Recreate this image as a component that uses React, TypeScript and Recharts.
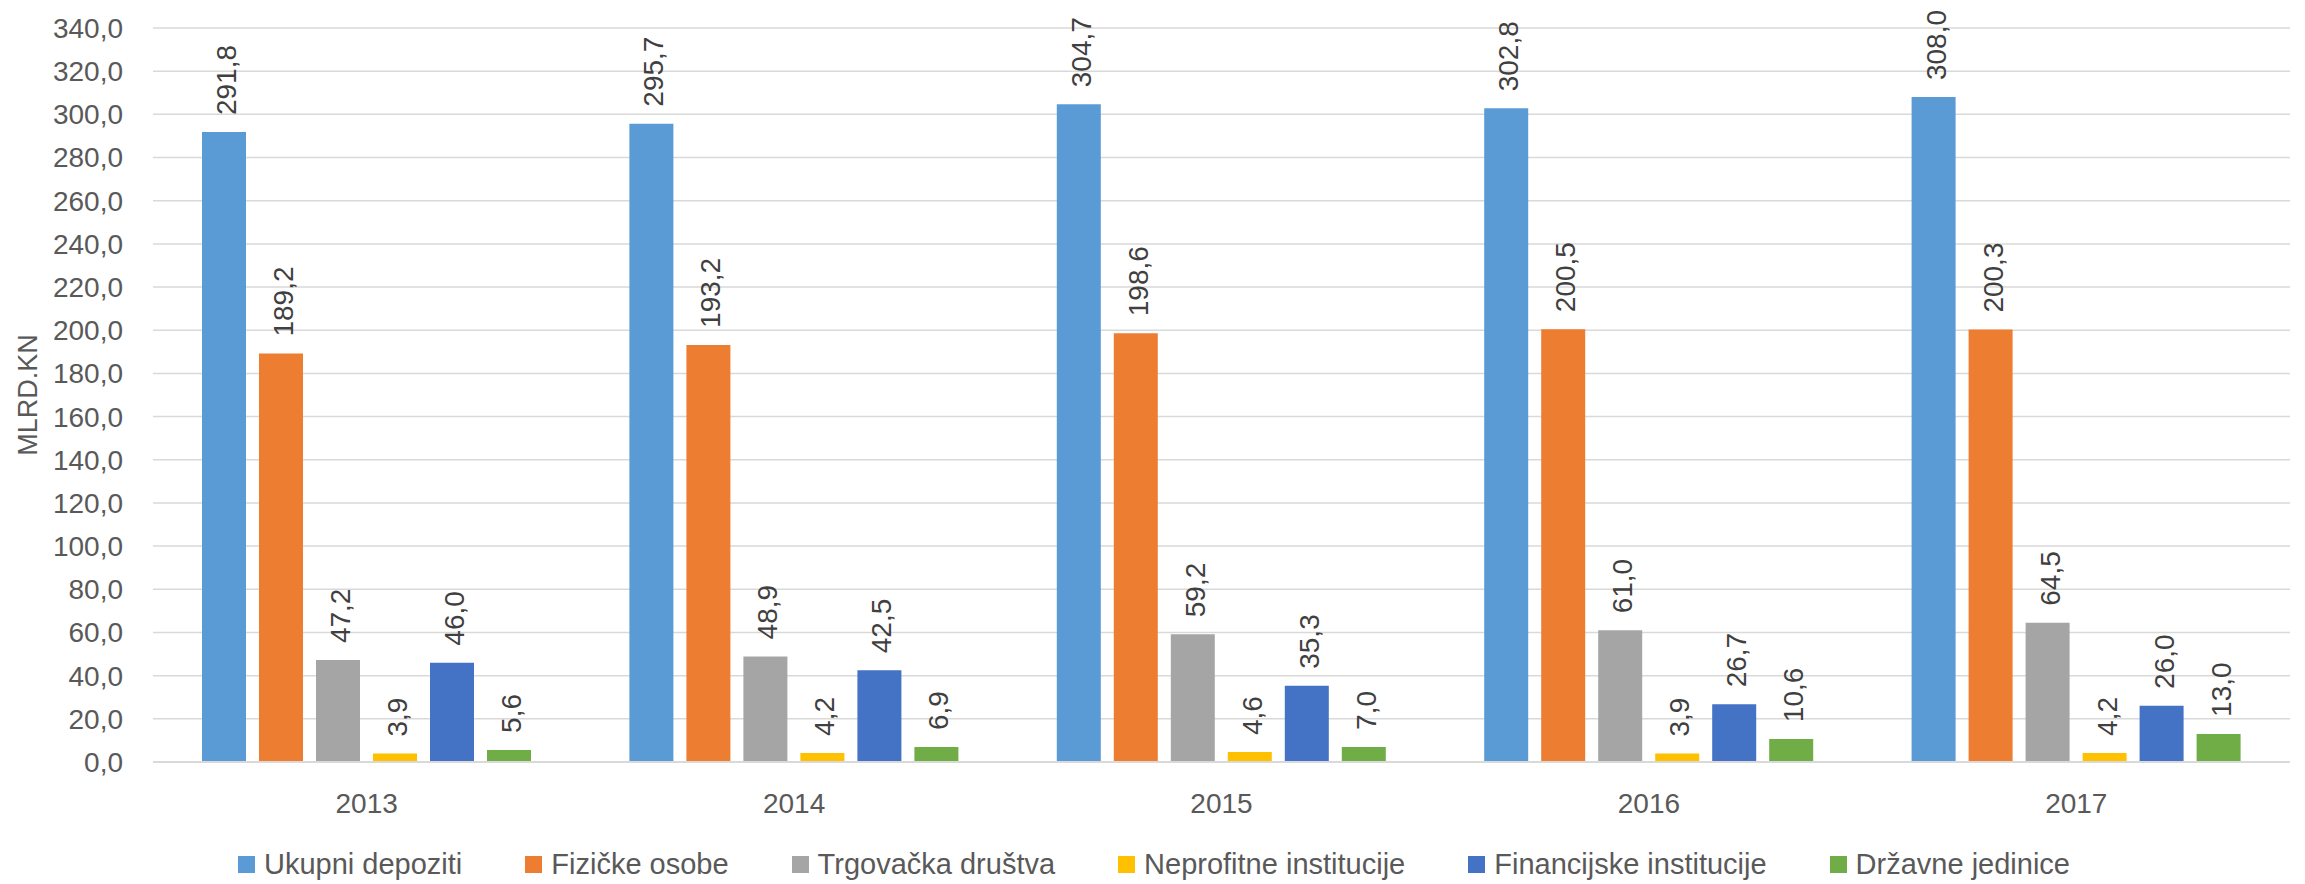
import React from 'react';
import { BarChart, Bar, XAxis, YAxis, CartesianGrid, Legend, LabelList } from 'recharts';

const years = ['2013', '2014', '2015', '2016', '2017'];
const ukupniDepoziti = [291.8, 295.7, 304.7, 302.8, 308.0];
const fizickeOsobe = [189.2, 193.2, 198.6, 200.5, 200.3];
const trgovackaDrustva = [47.2, 48.9, 59.2, 61.0, 64.5];
const neprofitneInstitucije = [3.9, 4.2, 4.6, 3.9, 4.2];
const financijskeInstitucije = [46.0, 42.5, 35.3, 26.7, 26.0];
const drzavneJedinice = [5.6, 6.9, 7.0, 10.6, 13.0];
const yTicks = [0, 20, 40, 60, 80, 100, 120, 140, 160, 180, 200, 220, 240, 260, 280, 300, 320, 340];
const yAxisTitle = 'MLRD.KN';

const seriesNames = [
  'Ukupni depoziti',
  'Fizičke osobe',
  'Trgovačka društva',
  'Neprofitne institucije',
  'Financijske institucije',
  'Državne jedinice',
];
const seriesValues = [
  ukupniDepoziti,
  fizickeOsobe,
  trgovackaDrustva,
  neprofitneInstitucije,
  financijskeInstitucije,
  drzavneJedinice,
];
const colors = ['#5B9BD5', '#ED7D31', '#A5A5A5', '#FFC000', '#4472C4', '#70AD47'];

const data = years.map((y, i) => {
  const row: Record<string, any> = { year: y };
  seriesNames.forEach((n, k) => {
    row['s' + k] = seriesValues[k][i];
  });
  return row;
});

const FONT = "'Liberation Sans', Arial, sans-serif";
const fmt = (v: number) => v.toFixed(1).replace('.', ',');

const DataLabel = (props: any) => {
  const { x, y, width, value } = props;
  const cx = Number(x) + Number(width) / 2 + 12;
  const ty = Number(y) - 17;
  return (
    <text
      x={cx}
      y={ty}
      transform={`rotate(-90, ${cx}, ${ty})`}
      textAnchor="start"
      fontFamily={FONT}
      fontSize={28}
      fill="#404040"
    >
      {fmt(Number(value))}
    </text>
  );
};

const renderLegend = () => {
  return (
    <div
      style={{
        display: 'flex',
        justifyContent: 'center',
        alignItems: 'center',
        height: 40,
        paddingLeft: 18,
        fontFamily: FONT,
        fontSize: 29,
        color: '#595959',
      }}
    >
      {seriesNames.map((name, i) => (
        <div key={name} style={{ display: 'flex', alignItems: 'center', marginRight: i < seriesNames.length - 1 ? 63 : 0 }}>
          <div style={{ width: 17, height: 17, background: colors[i], marginRight: 9 }} />
          <span style={{ whiteSpace: 'nowrap' }}>{name}</span>
        </div>
      ))}
    </div>
  );
};

const YTitle = (props: any) => {
  const { viewBox } = props;
  const vx = 37;
  const vy = viewBox.y + viewBox.height / 2;
  return (
    <text
      x={vx}
      y={vy}
      transform={`rotate(-90, ${vx}, ${vy})`}
      textAnchor="middle"
      fontFamily={FONT}
      fontSize={27}
      fill="#595959"
    >
      {yAxisTitle}
    </text>
  );
};

export default function App() {
  return (
    <div style={{ position: 'absolute', left: 0, top: 0, background: '#fff' }}>
      <BarChart
        width={2305}
        height={884}
        data={data}
        margin={{ top: 28, right: 15, bottom: 0, left: 0 }}
        barSize={44}
        barGap={13}
      >
        <CartesianGrid vertical={false} stroke="#d9d9d9" strokeWidth={1.5} />
        <XAxis
          dataKey="year"
          height={82}
          tickLine={false}
          axisLine={{ stroke: '#d9d9d9', strokeWidth: 2 }}
          tickSize={6}
          tickMargin={25}
          tick={{ fontFamily: FONT, fontSize: 28, fill: '#595959' }}
        />
        <YAxis
          width={153}
          domain={[0, 340]}
          ticks={yTicks}
          interval={0}
          tickFormatter={fmt}
          axisLine={false}
          tickLine={false}
          tickSize={6}
          tickMargin={24}
          tick={{ fontFamily: FONT, fontSize: 28, fill: '#595959' }}
          label={<YTitle />}
        />
        <Legend verticalAlign="bottom" content={renderLegend} />
        {seriesNames.map((n, k) => (
          <Bar key={n} dataKey={'s' + k} name={n} fill={colors[k]} isAnimationActive={false}>
            <LabelList dataKey={'s' + k} content={<DataLabel />} />
          </Bar>
        ))}
      </BarChart>
    </div>
  );
}
